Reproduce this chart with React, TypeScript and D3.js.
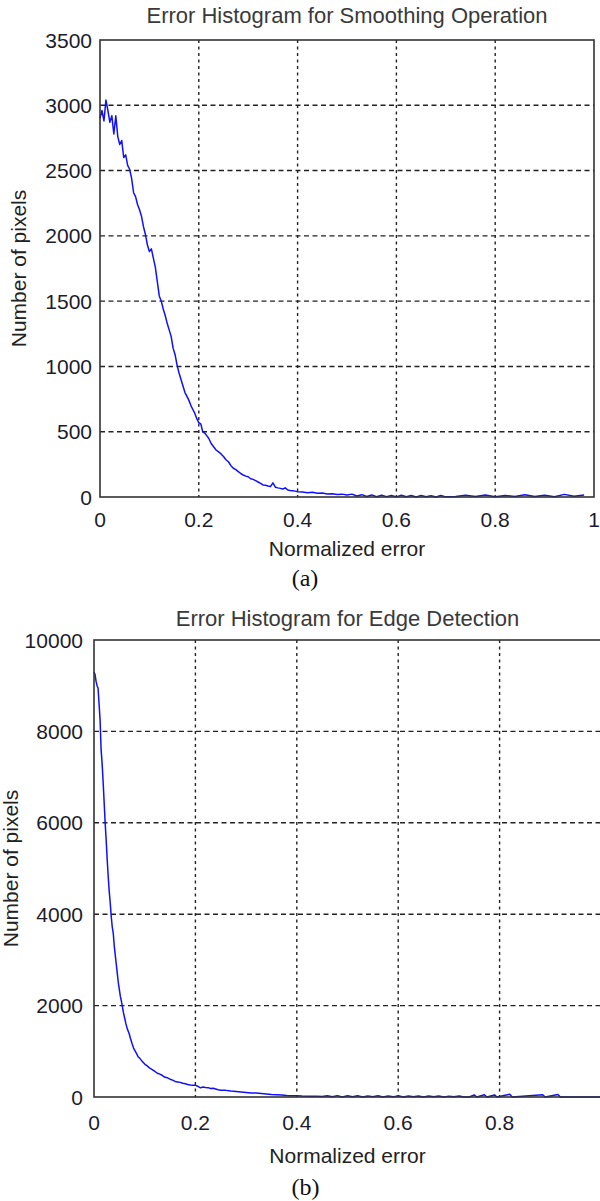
import React from "react";
import * as d3 from "d3";

// (a) smoothing operation: normalized error vs pixel count
const smoothErr = [
  0, 0.004, 0.008, 0.012, 0.016, 0.02, 0.024, 0.028, 0.032, 0.036, 0.04, 0.044, 0.048, 0.052,
  0.056, 0.06, 0.064, 0.068, 0.072, 0.076, 0.08, 0.084, 0.088, 0.092, 0.096, 0.1, 0.104, 0.108,
  0.112, 0.116, 0.12, 0.124, 0.128, 0.132, 0.136, 0.14, 0.144, 0.148, 0.152, 0.156, 0.16, 0.164,
  0.168, 0.172, 0.176, 0.18, 0.184, 0.188, 0.192, 0.196, 0.2, 0.204, 0.208, 0.212, 0.216, 0.22,
  0.225, 0.23, 0.235, 0.24, 0.245, 0.25, 0.255, 0.26, 0.265, 0.27, 0.275, 0.28, 0.285, 0.29,
  0.295, 0.3, 0.305, 0.31, 0.315, 0.32, 0.325, 0.33, 0.335, 0.34, 0.345, 0.35, 0.355, 0.36,
  0.365, 0.37, 0.375, 0.38, 0.385, 0.39, 0.395, 0.4, 0.41, 0.42, 0.43, 0.44, 0.45, 0.46, 0.47,
  0.48, 0.49, 0.5, 0.51, 0.52, 0.53, 0.54, 0.55, 0.56, 0.57, 0.58, 0.59, 0.6, 0.61, 0.62, 0.63,
  0.64, 0.65, 0.66, 0.67, 0.68, 0.69, 0.7, 0.72, 0.74, 0.76, 0.78, 0.8, 0.82, 0.84, 0.86, 0.88,
  0.9, 0.92, 0.94, 0.96, 0.98, 1,
];
const smoothCount = [
  2900, 2960, 2880, 3040, 2960, 2870, 2920, 2780, 2920, 2760, 2700, 2730, 2600, 2620,
  2540, 2510, 2440, 2330, 2300, 2240, 2200, 2150, 2070, 2010, 1930, 1880, 1900, 1830,
  1760, 1650, 1540, 1500, 1440, 1390, 1330, 1280, 1230, 1140, 1090, 1010, 950, 900,
  850, 800, 770, 740, 700, 670, 640, 600, 570, 560, 500, 490, 470, 450,
  410, 385, 360, 345, 330, 310, 285, 270, 240, 220, 210, 195, 180, 168,
  160, 155, 140, 135, 125, 115, 105, 92, 90, 84, 80, 108, 75, 70,
  66, 61, 70, 54, 50, 48, 45, 41, 38, 33, 36, 28, 30, 23, 25,
  20, 22, 15, 22, 8, 18, 4, 16, 2, 14, 3, 12, 1, 13, 2, 11,
  0, 12, 2, 10, 0, 11, 1, 4, 14, 3, 16, 2, 12, 4, 18,
  3, 14, 2, 20, 5, 16,
];

// (b) edge detection
const edgeErr = [
  0, 0.002, 0.004, 0.006, 0.008, 0.01, 0.012, 0.014, 0.016, 0.018, 0.02, 0.022, 0.024, 0.026,
  0.028, 0.03, 0.032, 0.034, 0.036, 0.038, 0.04, 0.042, 0.044, 0.046, 0.048, 0.05, 0.052, 0.054,
  0.056, 0.058, 0.06, 0.063, 0.066, 0.069, 0.072, 0.075, 0.078, 0.081, 0.084, 0.087, 0.09, 0.095,
  0.1, 0.105, 0.11, 0.115, 0.12, 0.125, 0.13, 0.135, 0.14, 0.145, 0.15, 0.155, 0.16, 0.165,
  0.17, 0.175, 0.18, 0.185, 0.19, 0.195, 0.2, 0.205, 0.21, 0.215, 0.22, 0.225, 0.23, 0.235,
  0.24, 0.245, 0.25, 0.26, 0.27, 0.28, 0.29, 0.3, 0.31, 0.32, 0.33, 0.34, 0.35, 0.36,
  0.37, 0.38, 0.39, 0.4, 0.41, 0.42, 0.43, 0.44, 0.45, 0.46, 0.47, 0.48, 0.49, 0.5,
  0.51, 0.52, 0.53, 0.54, 0.55, 0.56, 0.57, 0.58, 0.59, 0.6, 0.61, 0.62, 0.63, 0.64,
  0.65, 0.66, 0.67, 0.68, 0.69, 0.7, 0.71, 0.72, 0.73, 0.74, 0.75, 0.755, 0.77, 0.775,
  0.79, 0.795, 0.82, 0.825, 0.885, 0.89, 0.915, 0.92, 1,
];
const edgeCount = [
  9300, 9250, 9100, 9000, 8950, 8600, 8250, 7600, 7300, 6900, 6450, 6000, 5620, 5200,
  4830, 4500, 4250, 3950, 3720, 3580, 3300, 3100, 2900, 2700, 2500, 2350, 2200, 2100,
  1980, 1850, 1750, 1600, 1480, 1400, 1280, 1170, 1070, 1010, 950, 880, 850, 780,
  720, 680, 630, 600, 560, 520, 500, 470, 430, 420, 390, 370, 340, 330,
  320, 300, 290, 275, 265, 258, 255, 235, 200, 220, 210, 205, 185, 190,
  175, 160, 150, 145, 130, 120, 110, 100, 90, 85, 75, 65, 55, 50,
  45, 35, 30, 25, 20, 18, 15, 14, 12, 28, 4, 30, 2, 26,
  5, 28, 2, 24, 4, 27, 2, 22, 3, 25, 2, 21, 4, 24,
  2, 20, 3, 22, 2, 19, 4, 20, 0, 0, 45, 0, 50, 0,
  45, 0, 60, 0, 50, 0, 55, 0, 0,
];

const xTicksA = [0, 0.2, 0.4, 0.6, 0.8, 1];
const yTicksA = [0, 500, 1000, 1500, 2000, 2500, 3000, 3500];
const xTicksB = [0, 0.2, 0.4, 0.6, 0.8, 1];
const yTicksB = [0, 2000, 4000, 6000, 8000, 10000];

const sans = "'Liberation Sans', Arial, sans-serif";

type PanelProps = {
  xs: number[];
  ys: number[];
  yMax: number;
  xTicks: number[];
  yTicks: number[];
  tickText: (v: number) => string;
  title: string;
  caption: string;
  box: { left: number; right: number; top: number; bottom: number };
  labels: { titleY: number; tickY: number; xLabelY: number; capY: number; yLabelX: number; yTickX: number };
};

function Panel({ xs, ys, yMax, xTicks, yTicks, tickText, title, caption, box, labels }: PanelProps) {
  const x = d3.scaleLinear().domain([0, 1]).range([box.left, box.right]);
  const y = d3.scaleLinear().domain([0, yMax]).range([box.bottom, box.top]);
  const line = d3
    .line<number>()
    .x((_, i) => x(xs[i]))
    .y((d) => y(d));
  const cx = (box.left + box.right) / 2;
  const cy = (box.top + box.bottom) / 2;

  return (
    <g>
      <text x={cx} y={labels.titleY} textAnchor="middle" fontFamily={sans} fontSize={22} fill="#3a3a3a">
        {title}
      </text>
      <rect x={box.left} y={box.top} width={box.right - box.left} height={box.bottom - box.top} fill="#fff" />
      {/* grid */}
      {yTicks.slice(1, -1).map((t) => (
        <line key={"gy" + t} x1={box.left} x2={box.right} y1={y(t)} y2={y(t)}
          stroke="#222" strokeWidth={1.4} strokeDasharray="5,3.5" />
      ))}
      {xTicks.slice(1, -1).map((t) => (
        <line key={"gx" + t} x1={x(t)} x2={x(t)} y1={box.top} y2={box.bottom}
          stroke="#222" strokeWidth={1.4} strokeDasharray="3,3.5" />
      ))}
      <path d={line(ys) ?? ""} fill="none" stroke="#1010ff" strokeWidth={1.5} strokeLinejoin="round" />
      {/* axes box */}
      <rect x={box.left} y={box.top} width={box.right - box.left} height={box.bottom - box.top}
        fill="none" stroke="#333" strokeWidth={1.6} />
      {yTicks.map((t) => (
        <text key={"ty" + t} x={labels.yTickX} y={y(t)} dy="0.36em" textAnchor="end"
          fontFamily={sans} fontSize={21} fill="#1c1c2c">
          {tickText(t)}
        </text>
      ))}
      {xTicks.map((t) => (
        <text key={"tx" + t} x={x(t)} y={labels.tickY} textAnchor="middle"
          fontFamily={sans} fontSize={21} fill="#1c1c2c">
          {tickText(t)}
        </text>
      ))}
      <text x={cx} y={labels.xLabelY} textAnchor="middle" fontFamily={sans} fontSize={21} fill="#222">
        Normalized error
      </text>
      <text transform={`translate(${labels.yLabelX},${cy}) rotate(-90)`} textAnchor="middle" dy="0.36em"
        fontFamily={sans} fontSize={21} fill="#222">
        Number of pixels
      </text>
      <text x={cx - 42} y={labels.capY} textAnchor="middle" fontFamily="'Liberation Serif', 'Times New Roman', serif"
        fontSize={24} fill="#111">
        {caption}
      </text>
    </g>
  );
}

export default function App() {
  return (
    <svg width={600} height={1201} style={{ position: "absolute", left: 0, top: 0, background: "#fff" }}>
      <Panel
        xs={smoothErr}
        ys={smoothCount}
        yMax={3500}
        xTicks={xTicksA}
        yTicks={yTicksA}
        tickText={(v) => String(v)}
        title="Error Histogram for Smoothing Operation"
        caption="(a)"
        box={{ left: 100, right: 594, top: 40, bottom: 497 }}
        labels={{ titleY: 23, tickY: 527, xLabelY: 556, capY: 586, yLabelX: 18, yTickX: 92 }}
      />
      <Panel
        xs={edgeErr}
        ys={edgeCount}
        yMax={10000}
        xTicks={xTicksB}
        yTicks={yTicksB}
        tickText={(v) => (v === 1 ? "" : String(v))}
        title="Error Histogram for Edge Detection"
        caption="(b)"
        box={{ left: 94, right: 601, top: 640, bottom: 1097 }}
        labels={{ titleY: 626, tickY: 1130, xLabelY: 1163, capY: 1195, yLabelX: 10, yTickX: 83 }}
      />
    </svg>
  );
}
